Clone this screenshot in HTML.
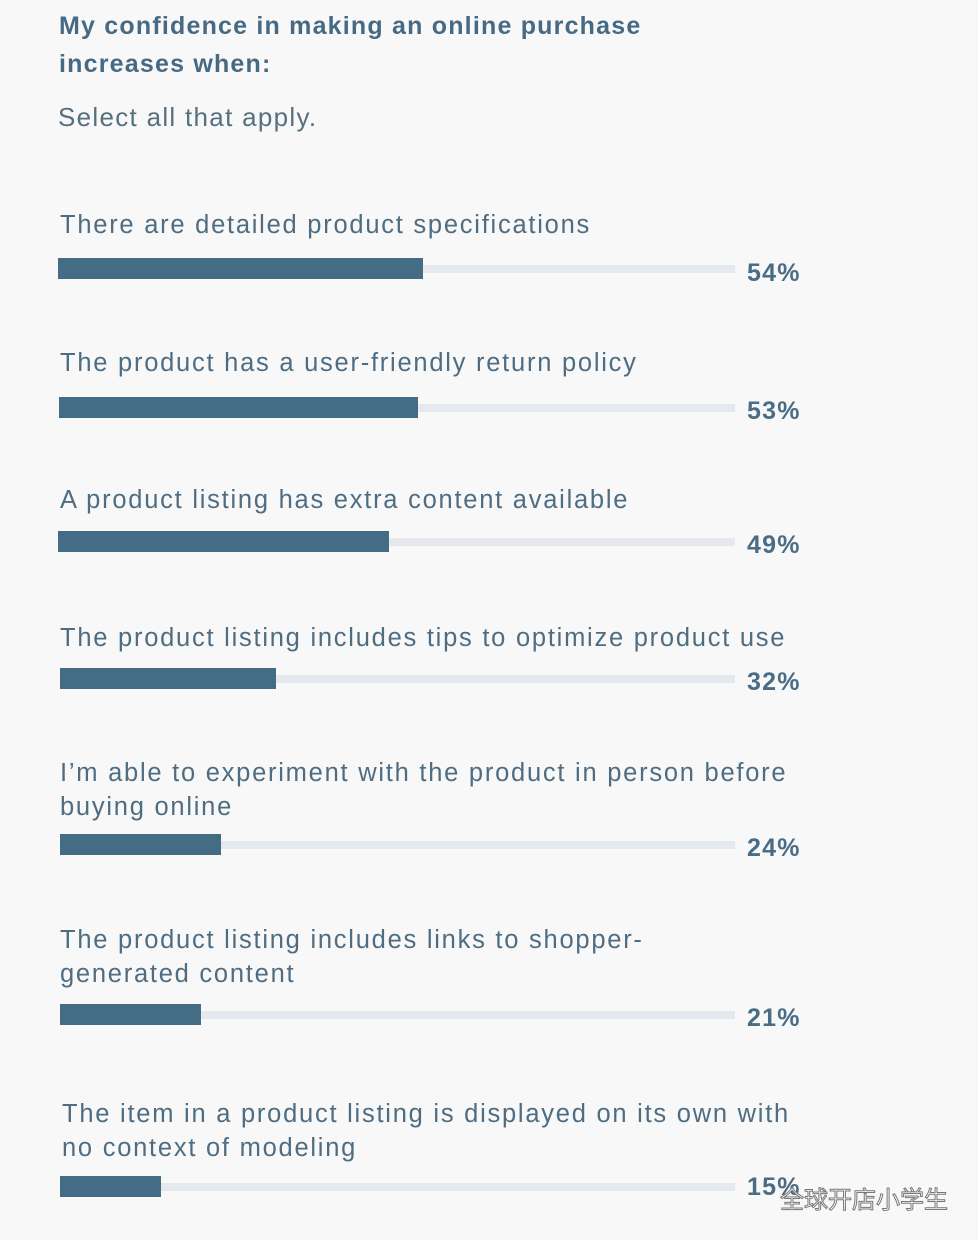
<!DOCTYPE html>
<html><head><meta charset="utf-8"><style>
html,body{margin:0;padding:0}
body{width:978px;height:1240px;background:#f8f8f8;position:relative;overflow:hidden;font-family:"Liberation Sans","Noto Sans CJK SC",sans-serif;color:#4d6d83}
.t{position:absolute;left:59px;font-size:25px;line-height:38px;font-weight:bold;color:#476a84;top:7px;letter-spacing:1.2px}
.s{position:absolute;left:58px;top:101px;font-size:26px;line-height:32px;color:#55707f;letter-spacing:1.3px}
.l{position:absolute;left:60px;font-size:25.5px;line-height:34px;color:#4e6d82;letter-spacing:1.75px;white-space:nowrap}
.tr{position:absolute;left:60px;width:675px;height:8px;background:#e5e9ee}
.b{position:absolute;left:58px;height:21px;background:#456c85}
.p{position:absolute;left:747px;font-size:25px;font-weight:bold;color:#4a6d86;line-height:28px;letter-spacing:1.2px}
.w{position:absolute;left:780px;top:1180px;font-size:24px;color:#fff;-webkit-text-stroke:1px #777;font-family:"Noto Sans CJK SC",sans-serif}
</style></head><body>
<div class="t">My confidence in making an online purchase<br>increases when:</div>
<div class="s">Select all that apply.</div>

<div class="l" style="top:208px">There are detailed product specifications</div>
<div class="tr" style="top:265px"></div><div class="b" style="top:258px;width:365px"></div>
<div class="p" style="top:259px">54%</div>

<div class="l" style="top:346px">The product has a user-friendly return policy</div>
<div class="tr" style="top:404px"></div><div class="b" style="top:397px;width:359px;left:59px"></div>
<div class="p" style="top:397px">53%</div>

<div class="l" style="top:483px">A product listing has extra content available</div>
<div class="tr" style="top:538px"></div><div class="b" style="top:531px;width:331px"></div>
<div class="p" style="top:531px">49%</div>

<div class="l" style="top:621px">The product listing includes tips to optimize product use</div>
<div class="tr" style="top:675px"></div><div class="b" style="top:668px;width:216px;left:60px"></div>
<div class="p" style="top:668px">32%</div>

<div class="l" style="top:756px">I’m able to experiment with the product in person before<br>buying online</div>
<div class="tr" style="top:841px"></div><div class="b" style="top:834px;width:161px;left:60px"></div>
<div class="p" style="top:834px">24%</div>

<div class="l" style="top:923px">The product listing includes links to shopper-<br>generated content</div>
<div class="tr" style="top:1011px"></div><div class="b" style="top:1004px;width:141px;left:60px"></div>
<div class="p" style="top:1004px">21%</div>

<div class="l" style="top:1097px;left:62px">The item in a product listing is displayed on its own with<br>no context of modeling</div>
<div class="tr" style="top:1183px"></div><div class="b" style="top:1176px;width:101px;left:60px"></div>
<div class="p" style="top:1173px">15%</div>
<div class="w">全球开店小学生</div>
</body></html>
